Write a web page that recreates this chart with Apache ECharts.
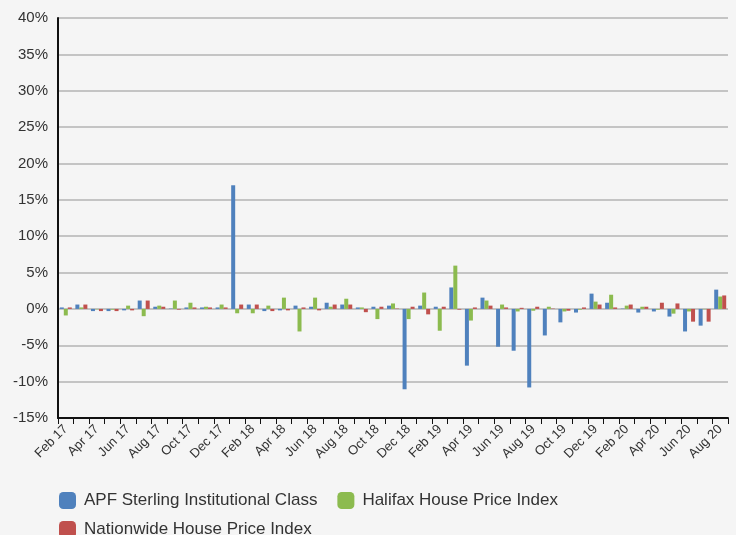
<!DOCTYPE html>
<html>
<head>
<meta charset="utf-8">
<script src="https://cdn.jsdelivr.net/npm/echarts@6/dist/echarts.min.js"></script>
<style>
html, body { margin: 0; padding: 0; background: #f5f5f5; }
#main { width: 736px; height: 535px; }
</style>
</head>
<body>
<div id="main"></div>
<script>
// months, Feb 17 .. Aug 20
var months = ['Feb 17','Mar 17','Apr 17','May 17','Jun 17','Jul 17','Aug 17','Sep 17','Oct 17','Nov 17','Dec 17',
	'Jan 18','Feb 18','Mar 18','Apr 18','May 18','Jun 18','Jul 18','Aug 18','Sep 18','Oct 18','Nov 18','Dec 18',
	'Jan 19','Feb 19','Mar 19','Apr 19','May 19','Jun 19','Jul 19','Aug 19','Sep 19','Oct 19','Nov 19','Dec 19',
	'Jan 20','Feb 20','Mar 20','Apr 20','May 20','Jun 20','Jul 20','Aug 20'];

// monthly change, %
var apf = [0.2,0.6,-0.3,-0.3,-0.2,1.15,0.3,0.05,0.2,0.2,0.2,
	17,0.6,-0.3,-0.2,0.45,0.3,0.85,0.6,0.2,0.3,0.45,
	-11.05,0.45,0.3,2.95,-7.8,1.55,-5.2,-5.75,-10.8,-3.65,-1.85,
	-0.5,2.1,0.85,0.05,-0.5,-0.35,-1.05,-3.1,-2.3,2.65];
var halifax = [-0.9,0.2,-0.05,-0.1,0.45,-1.0,0.45,1.15,0.85,0.3,0.6,
	-0.6,-0.6,0.45,1.55,-3.1,1.55,0.3,1.4,0.2,-1.4,0.75,
	-1.4,2.25,-3.0,5.95,-1.6,1.15,0.6,-0.35,-0.25,0.3,-0.35,
	-0.1,1.0,1.95,0.45,0.3,-0.1,-0.65,-0.35,-0.05,1.7];
var nationwide = [0.2,0.6,-0.3,-0.3,-0.2,1.15,0.3,-0.1,0.2,0.2,0.2,
	0.6,0.6,-0.3,-0.2,0.2,-0.2,0.6,0.6,-0.45,0.3,0.05,
	0.3,-0.75,0.3,-0.1,0.2,0.45,0.2,0.15,0.3,0.05,-0.25,
	0.2,0.6,0.2,0.6,0.3,0.85,0.75,-1.75,-1.75,1.85];

var names = ['APF Sterling Institutional Class', 'Halifax House Price Index', 'Nationwide House Price Index'];
var colors = ['#4f81bd', '#8cbb4f', '#c0504d'];

var font = 'Liberation Sans, Arial, sans-serif';

var myChart = echarts.init(document.getElementById('main'));

function legendAt(top, items) {
	return {
		left: 54,
		top: top,
		data: items,
		icon: 'roundRect',
		itemWidth: 17,
		itemHeight: 17,
		itemGap: 20,
		selectedMode: false,
		textStyle: { fontFamily: font, fontSize: 17, color: '#333', padding: [0, 0, 0, 3] }
	};
}

myChart.setOption({
	backgroundColor: '#f5f5f5',
	animation: false,
	color: colors,
	grid: { left: 58, right: 8, top: 18, bottom: 117 },
	legend: [
		legendAt(487, [names[0], names[1]]),
		legendAt(516, [names[2]])
	],
	xAxis: {
		type: 'category',
		data: months,
		position: 'bottom',
		axisLine: { onZero: false, lineStyle: { color: '#111', width: 2 } },
		axisTick: { show: true, interval: 0, length: 6, lineStyle: { color: '#111', width: 1 } },
		axisLabel: {
			interval: 1,
			rotate: 45,
			margin: 9,
			fontFamily: font,
			fontSize: 13,
			color: '#333'
		}
	},
	yAxis: {
		type: 'value',
		min: -15,
		max: 40,
		interval: 5,
		axisLine: { show: true, lineStyle: { color: '#111', width: 2 } },
		axisTick: { show: false },
		axisLabel: {
			formatter: '{value}%',
			margin: 10,
			fontFamily: font,
			fontSize: 15,
			color: '#333'
		},
		splitLine: { lineStyle: { color: '#c4c4c4', width: 2 } }
	},
	series: [
		{ name: names[0], type: 'bar', data: apf, barGap: '0%', barCategoryGap: '23%' },
		{ name: names[1], type: 'bar', data: halifax, barGap: '0%', barCategoryGap: '23%' },
		{ name: names[2], type: 'bar', data: nationwide, barGap: '0%', barCategoryGap: '23%' }
	]
});
</script>
</body>
</html>
